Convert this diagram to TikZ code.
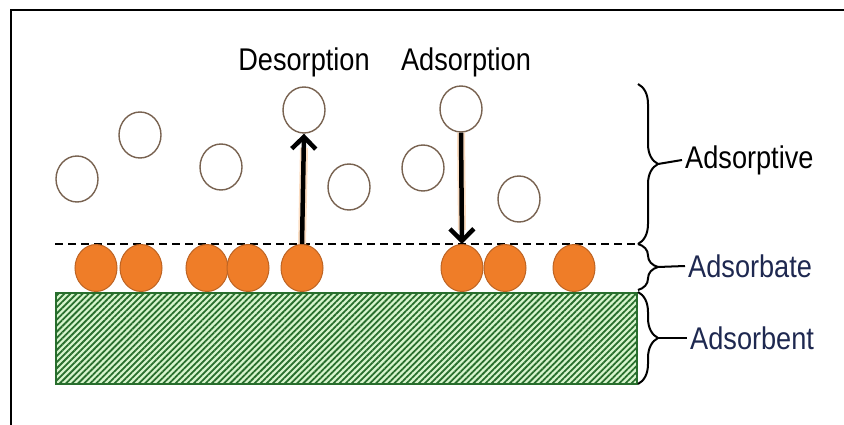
\documentclass[tikz,border=0pt]{standalone}
\usepackage{fontspec}
\setmainfont{Liberation Sans}
\usetikzlibrary{shapes.geometric,arrows.meta,patterns.meta,decorations.pathreplacing}
\definecolor{orfill}{RGB}{239,125,40}
\definecolor{ordraw}{RGB}{190,100,35}
\definecolor{gasdraw}{RGB}{120,98,80}
\definecolor{hatchgreen}{RGB}{40,110,45}
\definecolor{lightgreen}{RGB}{215,245,205}
\definecolor{navy}{RGB}{30,40,80}
\definecolor{glow}{RGB}{252,222,195}
\newcommand\talltext[1]{\scalebox{0.97}[1.12]{#1}}
\tikzset{
  adsorbed/.style={ellipse,draw=ordraw,fill=orfill,line width=1pt,minimum width=42pt,minimum height=47pt,inner sep=0pt},
  gas/.style={ellipse,draw=gasdraw,fill=white,line width=1.4pt,minimum width=42pt,minimum height=46pt,inner sep=0pt},
  txt/.style={font=\fontsize{28}{30}\selectfont,inner sep=0pt},
  lbl/.style={txt,anchor=west},
  bigarrow/.style={line width=4.5pt,-{Straight Barb[length=12pt,width=24pt,line width=4.5pt]}},
  glowline/.style={line width=8pt,draw=glow},
  bracestyle/.style={decorate,decoration={brace,amplitude=20pt},line width=2pt},
}
\begin{document}
\begin{tikzpicture}[x=1pt,y=-1pt]
\useasboundingbox (0,0) rectangle (844,425);
% frame
\draw[line width=2.5pt] (844,10) -- (11,10) -- (11,425);
% adsorbent
\fill[lightgreen] (56,293) rectangle (637,384);
\fill[pattern={Lines[angle=45,distance=4.3pt,line width=1.8pt]},pattern color=hatchgreen] (56,293) rectangle (637,384);
\draw[hatchgreen,line width=2pt] (56,293) rectangle (637,384);
% dashed line
\coordinate (dl) at (55,244);
\coordinate (dr) at (640,244);
\draw[line width=1.6pt,dash pattern=on 8pt off 5pt] (dl) -- (dr);
% adsorbed particles
\foreach \n/\x in {a1/96,a2/141,a3/207,a4/248,a5/302,a6/462,a7/505,a8/574}
  \node[adsorbed] (\n) at (\x,268) {};
% gas particles
\node[gas] (g1) at (77,179) {};
\node[gas] (g2) at (140,135) {};
\node[gas] (g3) at (221,167) {};
\node[gas] (g4) at (304,110) {};
\node[gas] (g5) at (349,187) {};
\node[gas] (g6) at (423,168) {};
\node[gas] (g7) at (461,109) {};
\node[gas] (g8) at (519,199) {};
% arrows
\draw[glowline] (a5.north) -- ([yshift=-14pt]g4.south);
\draw[glowline] (g7.south) -- ([yshift=14pt]a6.north);
\draw[bigarrow] (a5.north) -- (g4.south);
\draw[bigarrow] (g7.south) -- (a6.north);
% labels on top
\node[txt] (des) at (304,62) {\talltext{Desorption}};
\node[txt] (ads) at (466,62) {\talltext{Adsorption}};
% right labels
\node[lbl] (l1) at (685,160) {\talltext{Adsorptive}};
\node[lbl,text=navy] (l2) at (688,266) {\talltext{Adsorbate}};
\node[lbl,text=navy] (l3) at (690,338) {\talltext{Adsorbent}};
% braces
\coordinate (b1t) at (638,84);
\coordinate (b1b) at (638,244);
\coordinate (b2t) at (638,244);
\coordinate (b2b) at (638,290);
\coordinate (b3t) at (638,292);
\coordinate (b3b) at (638,384);
\draw[bracestyle] (b1t) -- (b1b);
\draw[bracestyle] (b2t) -- (b2b);
\draw[bracestyle] (b3t) -- (b3b);
\draw[line width=2pt] (658,164) -- ([xshift=-3pt]l1.west);
\draw[line width=2pt] (658,267) -- ([xshift=-3pt]l2.west);
\draw[line width=2pt] (658,338) -- ([xshift=-3pt]l3.west);
\end{tikzpicture}
\end{document}
